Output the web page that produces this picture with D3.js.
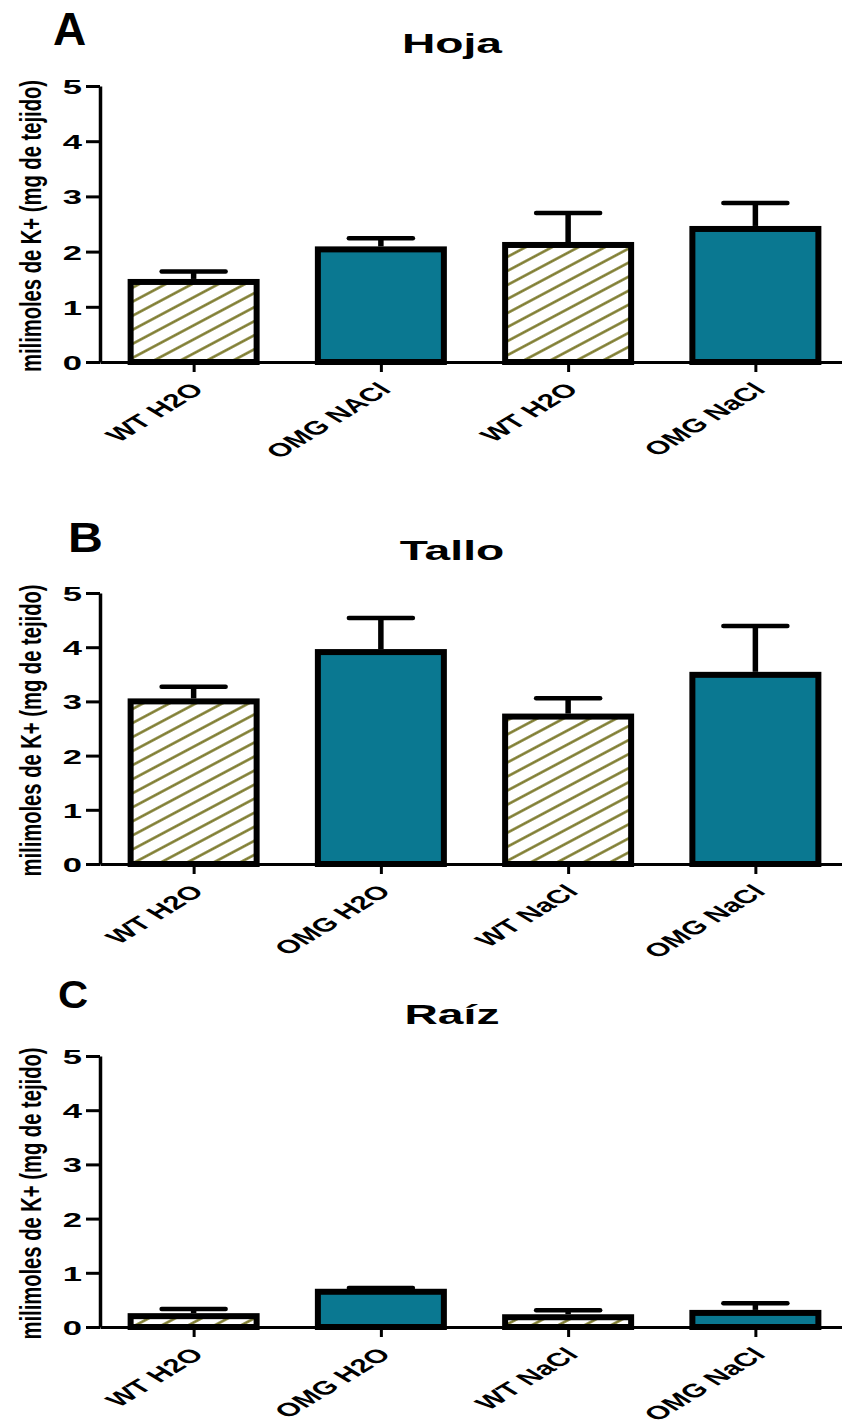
<!DOCTYPE html>
<html>
<head>
<meta charset="utf-8">
<script src="https://cdn.jsdelivr.net/npm/d3@7"></script>
<style>
  html, body { margin: 0; padding: 0; background: #fff; }
  text { font-family: "Liberation Sans", Arial, sans-serif; font-weight: bold; fill: #000; }
</style>
</head>
<body>
<script>
// data
var yTicks = [0, 1, 2, 3, 4, 5];

var hojaCats = ["WT H2O", "OMG NACl", "WT H2O", "OMG NaCl"];
var hojaMean = [1.45, 2.04, 2.12, 2.41];
var hojaErr = [0.19, 0.20, 0.58, 0.47];

var talloCats = ["WT H2O", "OMG H2O", "WT NaCl", "OMG NaCl"];
var talloMean = [3.0, 3.91, 2.72, 3.49];
var talloErr = [0.27, 0.63, 0.34, 0.90];

var raizCats = ["WT H2O", "OMG H2O", "WT NaCl", "OMG NaCl"];
var raizMean = [0.20, 0.65, 0.18, 0.26];
var raizErr = [0.13, 0.07, 0.13, 0.18];

var barKind = ["hatch", "solid", "hatch", "solid"];

const W = 842;
const H = 1427;
const teal = "#0a7891";
const olive = "#7c7a2c";
const sx = 1.65; // the figure is stretched sideways

var svg = d3.select("body").append("svg")
  .attr("width", W)
  .attr("height", H);

svg.append("rect").attr("width", W).attr("height", H).attr("fill", "#fff");

// hatch for WT bars
var defs = svg.append("defs");
var pat = defs.append("pattern")
  .attr("id", "hatch")
  .attr("patternUnits", "userSpaceOnUse")
  .attr("width", 20)
  .attr("height", 12.4)
  .attr("patternTransform", "rotate(-28)");
pat.append("rect").attr("width", 20).attr("height", 12.4).attr("fill", "#fff");
pat.append("line")
  .attr("x1", 0).attr("x2", 20)
  .attr("y1", 6.2).attr("y2", 6.2)
  .attr("stroke", olive)
  .attr("stroke-width", 2.5);

var panels = [
  { letter: "A", title: "Hoja", cats: hojaCats, mean: hojaMean, err: hojaErr,
    top: 86, bottom: 362, titleY: 53, letterX: 53, letterY: 45, letterSize: 46, letterSx: 1 },
  { letter: "B", title: "Tallo", cats: talloCats, mean: talloMean, err: talloErr,
    top: 593, bottom: 864, titleY: 560, letterX: 68, letterY: 552, letterSize: 42, letterSx: 1.15 },
  { letter: "C", title: "Raíz", cats: raizCats, mean: raizMean, err: raizErr,
    top: 1056, bottom: 1327, titleY: 1024, letterX: 58, letterY: 1008, letterSize: 38, letterSx: 1.1 }
];

panels.forEach(drawPanel);

function drawPanel(p) {
  var g = svg.append("g");

  var x = d3.scalePoint()
    .domain(d3.range(p.cats.length))
    .range([100, 849])
    .padding(0.5);

  var y = d3.scaleLinear()
    .domain([0, 5])
    .range([p.bottom, p.top]);

  var barW = 126;

  // bars
  g.selectAll(".bar")
    .data(p.mean)
    .enter()
    .append("rect")
    .attr("class", "bar")
    .attr("x", function (d, i) { return x(i) - barW / 2; })
    .attr("y", function (d) { return y(d); })
    .attr("width", barW)
    .attr("height", function (d) { return y(0) - y(d); })
    .attr("fill", function (d, i) { return barKind[i] === "hatch" ? "url(#hatch)" : teal; })
    .attr("stroke", "#000")
    .attr("stroke-width", 6);

  // error bars (upper only)
  var eb = g.selectAll(".err")
    .data(p.mean)
    .enter()
    .append("g")
    .attr("class", "err");

  eb.append("line")
    .attr("x1", function (d, i) { return x(i); })
    .attr("x2", function (d, i) { return x(i); })
    .attr("y1", function (d) { return y(d) - 3; })
    .attr("y2", function (d, i) { return y(d + p.err[i]); })
    .attr("stroke", "#000")
    .attr("stroke-width", 5.5);

  eb.append("line")
    .attr("x1", function (d, i) { return x(i) - 32; })
    .attr("x2", function (d, i) { return x(i) + 32; })
    .attr("y1", function (d, i) { return y(d + p.err[i]); })
    .attr("y2", function (d, i) { return y(d + p.err[i]); })
    .attr("stroke", "#000")
    .attr("stroke-width", 4.5)
    .attr("stroke-linecap", "round");

  // y axis
  var ya = g.append("g")
    .attr("transform", "translate(100,0)")
    .call(d3.axisLeft(y).tickValues(yTicks).tickFormat(d3.format("d")).tickSize(14).tickSizeOuter(0));
  ya.select(".domain").attr("stroke-width", 3.5);
  ya.selectAll(".tick line").attr("stroke-width", 3);
  ya.selectAll(".tick text")
    .attr("x", 0)
    .attr("dy", "0.36em")
    .attr("text-anchor", "end")
    .attr("font-size", 21)
    .attr("transform", "translate(-18,0) scale(" + sx + ",1)");

  // x axis
  var xa = g.append("g")
    .attr("transform", "translate(0," + p.bottom + ")")
    .call(d3.axisBottom(x).tickSize(10).tickSizeOuter(0).tickFormat(function (i) { return p.cats[i]; }));
  xa.select(".domain").attr("stroke-width", 3);
  xa.selectAll(".tick line").attr("stroke-width", 3);
  xa.selectAll(".tick text")
    .attr("x", 0)
    .attr("y", 0)
    .attr("dy", "0.36em")
    .attr("text-anchor", "end")
    .attr("font-size", 19)
    .attr("transform", "translate(3,24) scale(" + sx + ",1) rotate(-45)");

  // y label
  g.append("text")
    .attr("transform", "translate(41," + ((p.top + p.bottom) / 2 + 2) + ") scale(1.5,1) rotate(-90)")
    .attr("text-anchor", "middle")
    .attr("font-size", 20)
    .attr("textLength", 292)
    .attr("lengthAdjust", "spacingAndGlyphs")
    .text("milimoles de K+ (mg de tejido)");

  // title
  g.append("text")
    .attr("transform", "translate(452," + p.titleY + ") scale(" + sx + ",1)")
    .attr("text-anchor", "middle")
    .attr("font-size", 28)
    .text(p.title);

  // panel letter
  g.append("text")
    .attr("transform", "translate(" + p.letterX + "," + p.letterY + ") scale(" + p.letterSx + ",1)")
    .attr("font-size", p.letterSize)
    .text(p.letter);
}
</script>
</body>
</html>
